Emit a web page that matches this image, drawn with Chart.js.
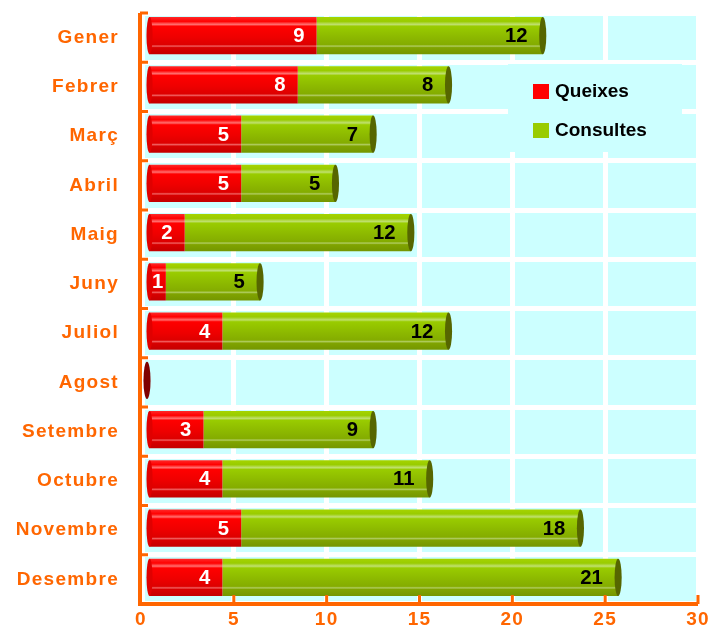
<!DOCTYPE html>
<html>
<head>
<meta charset="utf-8">
<script src="https://cdn.jsdelivr.net/npm/chart.js@4.4.0/dist/chart.umd.min.js"></script>
<style>
  body { margin: 0; background: #fff; }
</style>
</head>
<body>
<canvas id="c" width="710" height="635"></canvas>
<script>
// data
const months = ['Gener', 'Febrer', 'Març', 'Abril', 'Maig', 'Juny', 'Juliol', 'Agost', 'Setembre', 'Octubre', 'Novembre', 'Desembre'];
const queixes = [9, 8, 5, 5, 2, 1, 4, 0, 3, 4, 5, 4];
const consultes = [12, 8, 7, 5, 12, 5, 12, 0, 9, 11, 18, 21];
const xMax = 30;
const xStep = 5;

const ORANGE = '#ff6600';
const CYAN = '#ccffff';
const BAR_PCT = 0.76;
const DEPTH = 6; // fake 3d offset of the bars
const PERSP = 1.015;

function barHeight(chart) {
  return chart.chartArea.height / months.length * BAR_PCT;
}

// vertical gradient so each bar looks like a tube
function tube(stops) {
  return (c) => {
    const chart = c.chart;
    if (!chart.chartArea) return stops[1][1];
    const y = chart.scales.y.getPixelForValue(c.dataIndex);
    const h = barHeight(chart);
    const g = chart.ctx.createLinearGradient(0, y - h / 2, 0, y + h / 2);
    stops.forEach(s => g.addColorStop(s[0], s[1]));
    return g;
  };
}

const redStops = [[0, '#ff2a2a'], [0.12, '#ff0000'], [0.2, '#ff7070'], [0.25, '#ff0000'], [0.55, '#ee0000'], [0.74, '#dd0000'], [0.78, '#f06060'], [0.82, '#d80000'], [1, '#c40000']];
const greenStops = [[0, '#a6d400'], [0.12, '#99cc00'], [0.2, '#c0e070'], [0.25, '#99cc00'], [0.55, '#8cb800'], [0.74, '#84ac00'], [0.78, '#b0cc60'], [0.82, '#80a400'], [1, '#749600']];

const bgPlugin = {
  id: 'bg',
  beforeDraw(chart) {
    const { ctx, chartArea: a } = chart;
    ctx.save();
    ctx.fillStyle = CYAN;
    ctx.fillRect(a.left + 4, a.top, a.right - a.left - 4, a.bottom - a.top - 3);
    ctx.restore();
    // the original uses slightly spaced lettering on the axes
    ctx.letterSpacing = '1.3px';
  },
  beforeDatasetsDraw(chart) {
    const { ctx, chartArea: a } = chart;
    // legend box (drawn over the grid, under the bars)
    ctx.save();
    ctx.letterSpacing = '0px';
    ctx.fillStyle = CYAN;
    ctx.fillRect(508, 64, 174, 88);
    ctx.font = 'bold 19px "Liberation Sans", Arial, sans-serif';
    ctx.textAlign = 'left';
    ctx.textBaseline = 'middle';
    const items = [[chart.data.datasets[0].label, '#ff0000'], [chart.data.datasets[1].label, '#99cc00']];
    items.forEach((it, k) => {
      const yy = 91 + k * 39;
      ctx.fillStyle = it[1];
      ctx.fillRect(533, yy - 7, 16, 15);
      ctx.fillStyle = '#000';
      ctx.fillText(it[0], 555, yy + 1);
    });
    ctx.restore();

    ctx.save();
    ctx.letterSpacing = '0px';
    ctx.translate(a.left + DEPTH, -2);
    ctx.scale(PERSP, 1);
    ctx.translate(-a.left, 0);
  },
  afterDatasetsDraw(chart) {
    const { ctx } = chart;
    const h = barHeight(chart);
    const m0 = chart.getDatasetMeta(0);
    const m1 = chart.getDatasetMeta(1);
    const n = months.length;
    for (let i = 0; i < n; i++) {
      const r = m0.data[i];
      const g = m1.data[i];
      // left rounded start
      if (queixes[i] + consultes[i] > 0) {
        ctx.fillStyle = '#e00000';
        ctx.beginPath();
        ctx.ellipse(r.base, r.y, 3, h / 2, 0, 0, Math.PI * 2);
        ctx.fill();
      }
      // right cap
      let endX, capCol;
      if (consultes[i] > 0) { endX = g.x; capCol = '#566600'; }
      else if (queixes[i] > 0) { endX = r.x; capCol = '#990000'; }
      else { endX = r.base; capCol = '#800000'; }
      ctx.fillStyle = capCol;
      ctx.beginPath();
      ctx.ellipse(endX, r.y, 3.5, h / 2, 0, 0, Math.PI * 2);
      ctx.fill();

      // value labels
      ctx.font = 'bold 20px "Liberation Sans", Arial, sans-serif';
      ctx.textBaseline = 'middle';
      if (queixes[i] > 0) {
        ctx.fillStyle = '#ffffff';
        if (r.x - r.base < 30) {
          ctx.textAlign = 'center';
          ctx.fillText(String(queixes[i]), (r.x + r.base) / 2, r.y + 1);
        } else {
          ctx.textAlign = 'right';
          ctx.fillText(String(queixes[i]), r.x - 12, r.y + 1);
        }
      }
      if (consultes[i] > 0) {
        ctx.fillStyle = '#000000';
        ctx.textAlign = 'right';
        ctx.fillText(String(consultes[i]), g.x - 15, g.y + 1);
      }
    }
    ctx.restore();
  },
  afterDraw(chart) {
    const { ctx, chartArea: a, scales } = chart;
    ctx.save();
    // axes
    ctx.strokeStyle = ORANGE;
    ctx.lineWidth = 4;
    ctx.lineCap = 'butt';
    const ax = a.left - 1;
    const ay = a.bottom;
    ctx.beginPath();
    ctx.moveTo(ax, a.top);
    ctx.lineTo(ax, ay + 2);
    ctx.moveTo(ax - 2, ay);
    ctx.lineTo(a.right, ay);
    ctx.stroke();
    ctx.lineWidth = 3;
    ctx.beginPath();
    for (let i = 0; i <= months.length; i++) {
      const yy = scales.y.getPixelForValue(i - 0.5);
      ctx.moveTo(ax, yy);
      ctx.lineTo(ax + 8, yy);
    }
    for (let v = xStep; v <= xMax; v += xStep) {
      const xx = scales.x.getPixelForValue(v);
      ctx.moveTo(xx, ay);
      ctx.lineTo(xx, ay - 9);
    }
    ctx.stroke();
    ctx.restore();
  }
};

new Chart(document.getElementById('c'), {
  type: 'bar',
  data: {
    labels: months,
    datasets: [
      { label: 'Queixes', data: queixes, backgroundColor: tube(redStops), borderWidth: 0 },
      { label: 'Consultes', data: consultes, backgroundColor: tube(greenStops), borderWidth: 0 }
    ]
  },
  options: {
    indexAxis: 'y',
    responsive: false,
    animation: false,
    devicePixelRatio: 1,
    categoryPercentage: 1,
    barPercentage: BAR_PCT,
    layout: { padding: { left: 0, right: 12, top: 13, bottom: 0 } },
    plugins: { legend: { display: false }, tooltip: { enabled: false } },
    scales: {
      x: {
        stacked: true,
        min: 0,
        max: xMax,
        afterFit(s) { s.height = 31; s.paddingLeft = 0; s.paddingRight = 0; },
        ticks: {
          stepSize: xStep,
          color: ORANGE,
          padding: 4,
          font: { family: '"Liberation Sans Narrow", "Liberation Sans", Arial', size: 19, weight: 'bold' }
        },
        grid: { color: '#ffffff', lineWidth: 5, drawTicks: false },
        border: { display: false }
      },
      y: {
        stacked: true,
        afterFit(s) { s.width = 141; s.paddingTop = 0; s.paddingBottom = 0; },
        ticks: {
          color: ORANGE,
          padding: 22,
          font: { family: '"Liberation Sans", Arial', size: 19, weight: 'bold' }
        },
        grid: { color: '#ffffff', lineWidth: 5, drawTicks: false, offset: true },
        border: { display: false }
      }
    }
  },
  plugins: [bgPlugin]
});
</script>
</body>
</html>
